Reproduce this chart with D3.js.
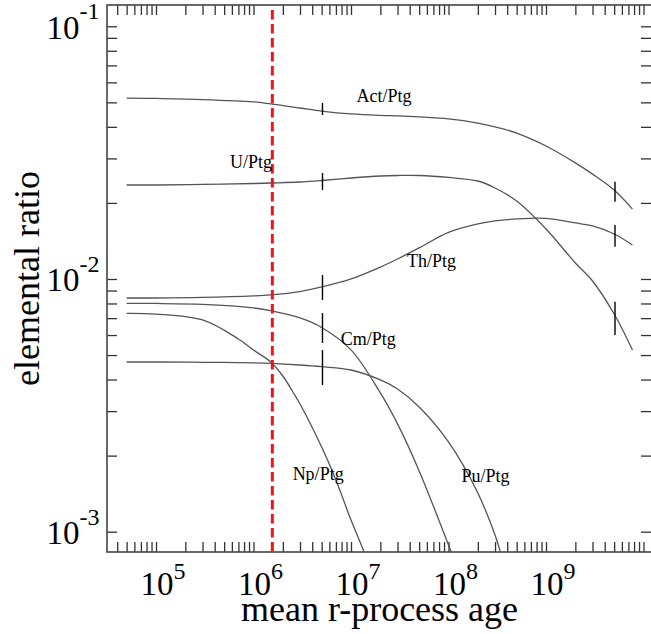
<!DOCTYPE html>
<html>
<head>
<meta charset="utf-8">
<title>elemental ratio vs mean r-process age</title>
<script src="https://d3js.org/d3.v7.min.js"></script>
<style>
  body { margin: 0; background: #fff; }
  text { font-family: "Liberation Serif", "Times New Roman", serif; fill: #000; }
</style>
</head>
<body>
<script>
// ages (years) and ratios
const agesLong = [5e4, 1e5, 3e5, 1e6, 1.5e6, 3e6, 5e6, 1e7, 2e7, 3e7, 5e7, 1e8, 2e8, 3e8, 5e8, 1e9, 2e9, 3e9, 5e9, 7.7e9];
const actPtg = [0.0520, 0.0518, 0.0513, 0.0502, 0.0493, 0.0475, 0.0462, 0.0450, 0.0444, 0.0442, 0.0438, 0.0430, 0.0414, 0.0400, 0.0378, 0.0336, 0.0288, 0.0260, 0.0225, 0.0189];
const uPtg = [0.02355, 0.02355, 0.02366, 0.02387, 0.02398, 0.02420, 0.02453, 0.02510, 0.02556, 0.02568, 0.02568, 0.02522, 0.02442, 0.02291, 0.02035, 0.01577, 0.01157, 0.00982, 0.00727, 0.00524];
const thPtg = [0.00841, 0.00841, 0.00845, 0.00857, 0.00865, 0.00892, 0.00930, 0.01000, 0.01115, 0.01200, 0.01327, 0.01528, 0.01651, 0.01697, 0.01728, 0.01736, 0.01666, 0.01621, 0.01507, 0.01363];

const agesCm = [5e4, 1e5, 3e5, 1e6, 1.5e6, 3e6, 5e6, 1e7, 2e7, 3e7, 5e7, 1e8, 1.2e8];
const cmPtg = [0.00801, 0.00800, 0.00793, 0.00768, 0.00750, 0.00701, 0.00643, 0.00524, 0.00354, 0.00267, 0.00174, 0.000886, 0.000738];

const agesPu = [5e4, 1e5, 3e5, 1e6, 1.5e6, 3e6, 5e6, 1e7, 2e7, 3e7, 5e7, 1e8, 2e8, 3e8, 3.5e8, 4e8];
const puPtg = [0.004693, 0.004693, 0.004681, 0.004660, 0.004638, 0.004567, 0.004496, 0.004363, 0.003986, 0.003671, 0.003115, 0.002265, 0.001422, 0.000970, 0.000801, 0.000674];

const agesNp = [5e4, 1e5, 3e5, 7e5, 1e6, 1.5e6, 2e6, 2.5e6, 3e6, 5e6, 7e6, 1e7, 1.3e7, 1.5e7];
const npPtg = [0.007313, 0.007266, 0.006883, 0.005789, 0.005236, 0.004693, 0.004131, 0.003603, 0.003201, 0.002163, 0.001602, 0.001112, 0.000870, 0.000752];

// vertical range marks on the curves
const barAge  = [5.1e6, 5.1e6, 5.1e6, 5.1e6, 5.1e6, 5.1e9, 5.1e9, 5.1e9];
const barLow  = [0.04457, 0.02250, 0.008258, 0.00558, 0.003806, 0.02022, 0.01342, 0.006005];
const barHigh = [0.04972, 0.02627, 0.01037, 0.00733, 0.005236, 0.02427, 0.01636, 0.008131];

const markerAge = 1.56e6;

const seriesNames = ["Act/Ptg", "U/Ptg", "Th/Ptg", "Cm/Ptg", "Np/Ptg", "Pu/Ptg"];
const labelAge   = [1.14e7, 5.74e5, 3.75e7, 7.83e6, 2.52e6, 1.36e8];
const labelRatio = [0.0502, 0.02742, 0.01118, 0.00548, 0.001602, 0.001577];

const xMajor = [1e5, 1e6, 1e7, 1e8, 1e9];
const xExp = ["5", "6", "7", "8", "9"];
const yMajor = [1e-1, 1e-2, 1e-3];
const yExp = ["-1", "-2", "-3"];

const W = 651, H = 634;
const L = 107, R = 652, T = 5, B = 552;

const svg = d3.select("body").append("svg")
  .attr("width", W).attr("height", H);

const x = d3.scaleLog().domain([3.144e4, 1.222e10]).range([L, R]);
const y = d3.scaleLog().domain([8.31e-4, 0.1214]).range([B, T]);

// minor + major ticks
const xt = [], yt = [];
for (let d = 4; d <= 10; d++) for (let m = 1; m <= 9; m++) {
  const v = m * Math.pow(10, d);
  if (v > x.domain()[0] && v < x.domain()[1]) xt.push(v);
}
for (let d = -4; d <= -1; d++) for (let m = 1; m <= 9; m++) {
  const v = m * Math.pow(10, d);
  if (v > y.domain()[0] && v < y.domain()[1] && y(v) < B - 10) yt.push(v);
}

function styleAxis(g) {
  g.select(".domain").remove();
  g.selectAll(".tick line").attr("stroke", "#333").attr("stroke-width", 1.3);
}
svg.append("g").attr("transform", `translate(0,${B})`)
  .call(d3.axisBottom(x).tickValues(xt).tickSize(-10).tickFormat("")).call(styleAxis);
svg.append("g").attr("transform", `translate(0,${T})`)
  .call(d3.axisTop(x).tickValues(xt).tickSize(-10).tickFormat("")).call(styleAxis);
svg.append("g").attr("transform", `translate(${L},0)`)
  .call(d3.axisLeft(y).tickValues(yt).tickSize(-10).tickFormat("")).call(styleAxis);
svg.append("g").attr("transform", `translate(${R - 1},0)`)
  .call(d3.axisRight(y).tickValues(yt).tickSize(-10).tickFormat("")).call(styleAxis);

// frame
svg.append("rect")
  .attr("x", L).attr("y", T).attr("width", R - L).attr("height", B - T)
  .attr("fill", "none").attr("stroke", "#444").attr("stroke-width", 1.6);

// tick labels
xMajor.forEach((v, i) => {
  const t = svg.append("text")
    .attr("x", x(v) - 15.5).attr("y", B + 43)
    .attr("font-size", 33);
  t.append("tspan").text("10");
  t.append("tspan").attr("font-size", 24).attr("dy", -16.5).text(xExp[i]);
});
yMajor.forEach((v, i) => {
  const t = svg.append("text")
    .attr("x", 46.5).attr("y", y(v) + 12.5)
    .attr("font-size", 33);
  t.append("tspan").text("10");
  t.append("tspan").attr("font-size", 24).attr("dy", -19.5).text(yExp[i]);
});

// axis titles
svg.append("text")
  .attr("x", (L + R) / 2).attr("y", 621)
  .attr("text-anchor", "middle").attr("font-size", 36)
  .text("mean r-process age");
svg.append("text")
  .attr("transform", `translate(39,${(T + B) / 2}) rotate(-90)`)
  .attr("text-anchor", "middle").attr("font-size", 36)
  .text("elemental ratio");

// curves
svg.append("clipPath").attr("id", "plot")
  .append("rect").attr("x", L).attr("y", T).attr("width", R - L).attr("height", B - T);

const plot = svg.append("g").attr("clip-path", "url(#plot)");
const line = d3.line()
  .x(d => x(d[0])).y(d => y(d[1]))
  .curve(d3.curveCatmullRom.alpha(0.5));

const curves = [
  [agesLong, actPtg], [agesLong, uPtg], [agesLong, thPtg],
  [agesCm, cmPtg], [agesNp, npPtg], [agesPu, puPtg]
];
curves.forEach(([a, r]) => {
  plot.append("path")
    .attr("d", line(a.map((v, i) => [v, r[i]])))
    .attr("fill", "none").attr("stroke", "#555").attr("stroke-width", 1.3);
});

// range marks
barAge.forEach((a, i) => {
  plot.append("line")
    .attr("x1", x(a)).attr("x2", x(a))
    .attr("y1", y(barLow[i])).attr("y2", y(barHigh[i]))
    .attr("stroke", "#000").attr("stroke-width", 1.4);
});

// red dashed marker
plot.append("line")
  .attr("x1", x(markerAge)).attr("x2", x(markerAge))
  .attr("y1", T + 5).attr("y2", B)
  .attr("stroke", "#f01414").attr("stroke-width", 3)
  .attr("stroke-dasharray", "9.5,4.5");

// series labels
seriesNames.forEach((n, i) => {
  svg.append("text")
    .attr("x", x(labelAge[i])).attr("y", y(labelRatio[i]))
    .attr("font-size", 18)
    .text(n);
});
</script>
</body>
</html>
